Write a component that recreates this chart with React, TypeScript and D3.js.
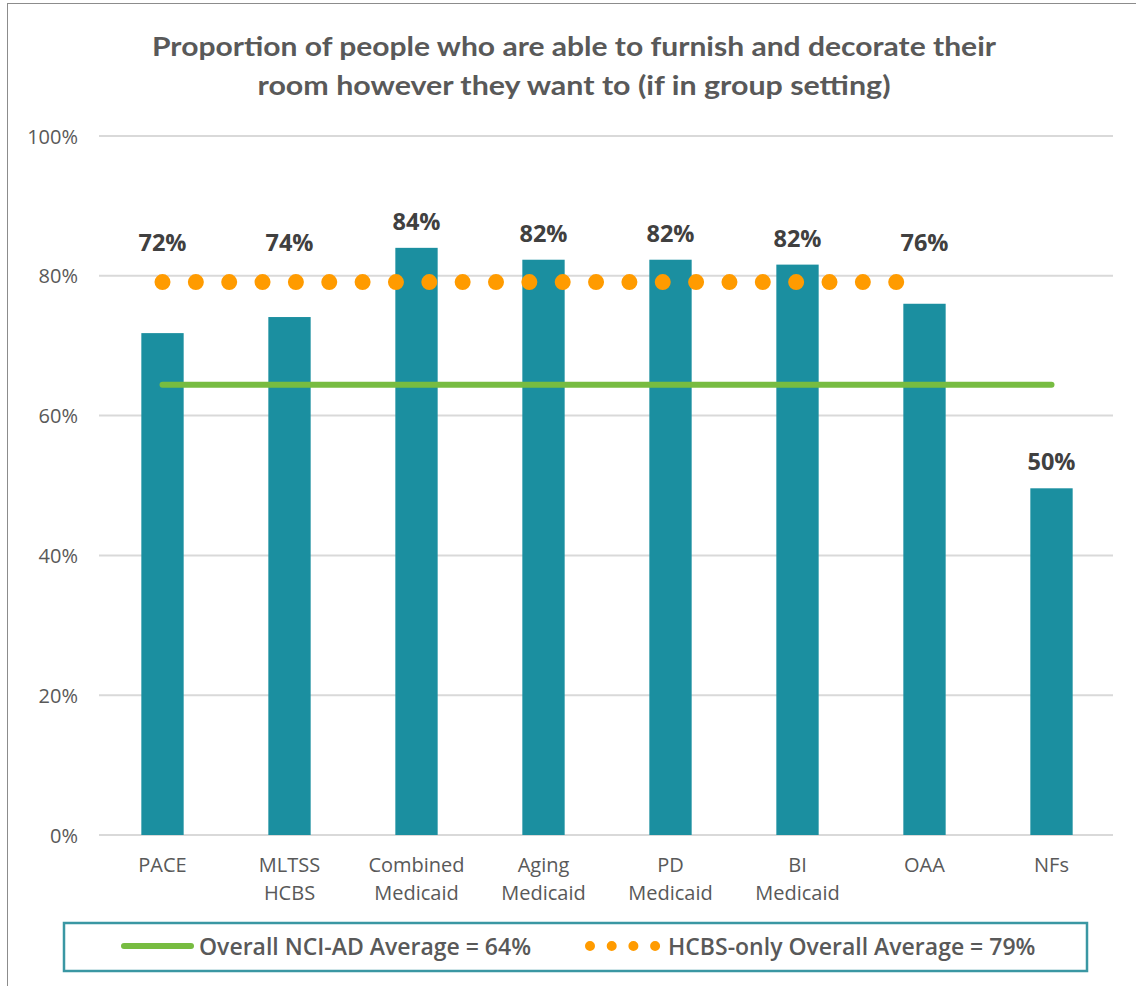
import React from "react";
import * as d3 from "d3";

const categories = ["PACE", "MLTSS\nHCBS", "Combined\nMedicaid", "Aging\nMedicaid", "PD\nMedicaid", "BI\nMedicaid", "OAA", "NFs"];
const values = [0.718, 0.741, 0.84, 0.823, 0.823, 0.816, 0.76, 0.496];
const hcbsPrograms = ["PACE", "MLTSS\nHCBS", "Combined\nMedicaid", "Aging\nMedicaid", "PD\nMedicaid", "BI\nMedicaid", "OAA"];
const overallAverage = 0.644;
const hcbsAverage = 0.791;
const yTicks = [0, 0.2, 0.4, 0.6, 0.8, 1.0];
const titleLines = ["Proportion of people who are able to furnish and decorate their", "room however they want to (if in group setting)"];
const overallLabel = "Overall NCI-AD Average";
const hcbsLabel = "HCBS-only Overall Average";

const W = 1136, H = 986;
const M = { left: 99, right: 1115, top: 136, bottom: 835 };
const BAR = "#1B8FA0";
const GREEN = "#77BC41";
const ORANGE = "#FF9B00";
const GRID = "#D9D9D9";
const TXT = "#595959";
const FONT = "'Open Sans', sans-serif";

export default function App() {
  const x = d3.scaleBand<string>().domain(categories).range([M.left, M.right]).padding(0);
  const y = d3.scaleLinear().domain([0, 1]).range([M.bottom, M.top]);
  const pct = d3.format(".0%");
  const bw = x.bandwidth() / 3;
  const cx = (c: string) => (x(c) as number) + x.bandwidth() / 2;

  const line = d3.line<[number, number]>().x(d => d[0]).y(d => d[1]);
  const greenPath = line([[cx(categories[0]), y(overallAverage)], [cx(categories[categories.length - 1]), y(overallAverage)]]);
  const orangePath = line([[cx(hcbsPrograms[0]), y(hcbsAverage)], [cx(hcbsPrograms[hcbsPrograms.length - 1]), y(hcbsAverage)]]);

  return (
    <svg width={W} height={H} style={{ position: "absolute", left: 0, top: 0, background: "#fff" }} fontFamily={FONT}>
      <rect x={0} y={0} width={W} height={H} fill="#fff" />
      <rect x={7.5} y={3.5} width={W + 20} height={H + 20} fill="none" stroke="#8c8c8c" strokeWidth={1} />
      {titleLines.map((t, i) => (
        <text key={i} x={574} y={46 + i * 39} textAnchor="middle" dominantBaseline="central" fontFamily="Lato, sans-serif" fontWeight={700} fontSize={26} fill={TXT}
          textLength={i === 0 ? 844 : 633} lengthAdjust="spacingAndGlyphs">{t}</text>
      ))}
      {yTicks.map(t => (
        <g key={t}>
          <line x1={M.left} x2={M.right - 2} y1={y(t)} y2={y(t)} stroke={GRID} strokeWidth={2} />
          <text x={78} y={y(t)} textAnchor="end" dominantBaseline="central" fontSize={20} fill={TXT}>{pct(t)}</text>
        </g>
      ))}
      {categories.map((c, i) => (
        <rect key={c} x={cx(c) - bw / 2} y={y(values[i])} width={bw} height={y(0) - y(values[i])} fill={BAR} />
      ))}
      {categories.map(c => (
        <text key={c} x={cx(c)} y={864} textAnchor="middle" dominantBaseline="central" fontSize={20} fill={TXT}>
          {c.split("\n").map((l, j) => (
            <tspan key={j} x={cx(c)} dy={j === 0 ? 0 : 28}>{l}</tspan>
          ))}
        </text>
      ))}
      <path d={greenPath || ""} stroke={GREEN} strokeWidth={6} strokeLinecap="round" fill="none" />
      <path d={orangePath || ""} stroke={ORANGE} strokeWidth={16} strokeLinecap="round" strokeDasharray="0 33.35" fill="none" />
      {categories.map((c, i) => {
        const v = values[i];
        const crossesDots = hcbsPrograms.includes(c) && v < hcbsAverage;
        const ly = crossesDots ? y(hcbsAverage) - 40 : y(v) - 27;
        return (
          <text key={c} x={cx(c)} y={ly} textAnchor="middle" dominantBaseline="central" fontSize={23.5} fontWeight={700} fill="#404040">{pct(v)}</text>
        );
      })}
      <rect x={64} y={923} width={1023} height={48} fill="none" stroke="#3A97A3" strokeWidth={2.5} />
      <line x1={124} x2={191} y1={946} y2={946} stroke={GREEN} strokeWidth={6} strokeLinecap="round" />
      <text x={199} y={946} dominantBaseline="central" fontSize={23} fontWeight={600} fill={TXT}>{`${overallLabel} = ${pct(overallAverage)}`}</text>
      <line x1={590} x2={656} y1={946} y2={946} stroke={ORANGE} strokeWidth={10} strokeLinecap="round" strokeDasharray="0 21.7" />
      <text x={668} y={946} dominantBaseline="central" fontSize={23} fontWeight={600} fill={TXT}>{`${hcbsLabel} = ${pct(hcbsAverage)}`}</text>
    </svg>
  );
}
